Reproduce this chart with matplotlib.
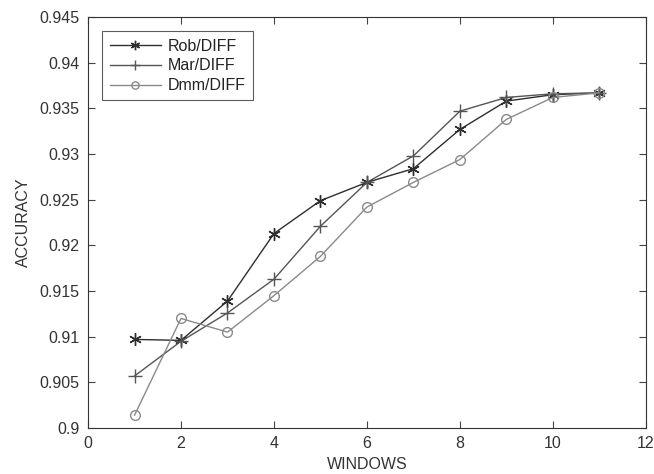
import matplotlib
matplotlib.use("Agg")
import matplotlib.pyplot as plt

plt.rcParams['font.family'] = ['Liberation Sans', 'DejaVu Sans']

windows = [1, 2, 3, 4, 5, 6, 7, 8, 9, 10, 11]
rob_diff = [0.9097, 0.9096, 0.9139, 0.9213, 0.9249, 0.9269, 0.9284, 0.9327, 0.9358, 0.9365, 0.9367]
mar_diff = [0.9057, 0.9095, 0.9126, 0.9163, 0.9221, 0.9269, 0.9298, 0.9347, 0.9362, 0.9366, 0.9367]
dmm_diff = [0.9014, 0.9120, 0.9105, 0.9145, 0.9188, 0.9242, 0.9269, 0.9294, 0.9338, 0.9362, 0.9367]

fig = plt.figure(figsize=(6.54, 4.74), dpi=100)
ax = fig.add_axes([0.1346, 0.097, 0.853, 0.867])

ax.plot(windows, rob_diff, color='#2e2e2e', lw=1, marker=(6, 2, 0), ms=9, mew=1, label='Rob/DIFF')
ax.plot(windows, mar_diff, color='#555555', lw=1, marker='+', ms=10, mew=1, label='Mar/DIFF')
ax.plot(windows, dmm_diff, color='#8a8a8a', lw=1, marker='o', ms=7, mfc='none', mew=1, label='Dmm/DIFF')

ax.set_xlim(0, 12)
ax.set_ylim(0.9, 0.945)
ax.set_xticks(range(0, 13, 2))
ax.set_yticks([0.9, 0.905, 0.91, 0.915, 0.92, 0.925, 0.93, 0.935, 0.94, 0.945])
ax.set_yticklabels(['0.9', '0.905', '0.91', '0.915', '0.92', '0.925', '0.93', '0.935', '0.94', '0.945'])
ax.tick_params(direction='in', top=True, right=True, labelsize=11.5, labelcolor='#333333',
               color='#444444', length=5, pad=6)
for s in ax.spines.values():
    s.set_color('#333333')

ax.set_xlabel('WINDOWS', fontsize=11.5, color='#333333', labelpad=4)
ax.set_ylabel('ACCURACY', fontsize=11.5, color='#333333', labelpad=6)

leg = ax.legend(loc='upper left', fontsize=11.5, frameon=True, fancybox=False, edgecolor='#333333',
                borderaxespad=0.9, handlelength=3.2, handletextpad=0.45, labelspacing=0.3,
                borderpad=0.45, markerscale=0.75)
leg.get_frame().set_linewidth(0.8)
for t in leg.get_texts():
    t.set_color('#222222')

fig.savefig('out.png', dpi=100)
